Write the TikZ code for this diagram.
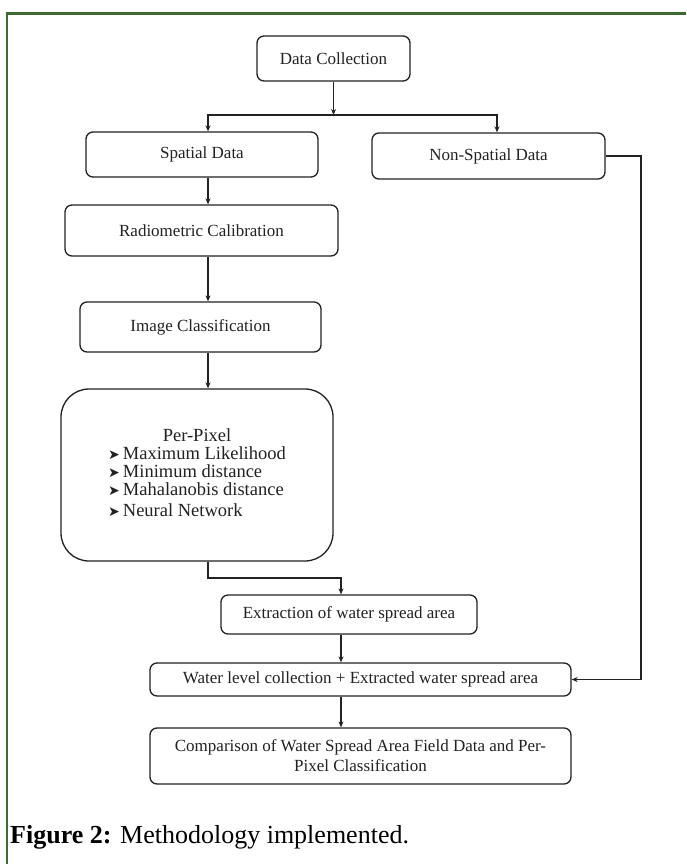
\documentclass[tikz,border=0pt]{standalone}
\usepackage{fontspec}
\setmainfont{Liberation Serif}
\newfontfamily\symfont{DejaVu Sans}
\usetikzlibrary{arrows.meta,calc}
\definecolor{framegreen}{HTML}{3C6A32}
\definecolor{ink}{HTML}{222222}
\begin{document}
\begin{tikzpicture}[x=1pt,y=-1pt,
 box/.style={draw=ink, line width=1.3pt, rounded corners=7pt, inner sep=0pt, align=center,
   font=\fontsize{17}{20}\selectfont, text=ink},
 arr/.style={-{Stealth[length=6pt,width=5pt]}, line width=1.2pt, draw=ink}]
\useasboundingbox (0,0) rectangle (686,864);
\fill[white] (0,0) rectangle (686,864);
% frame
\draw[framegreen, line width=3pt] (5.5,14) -- (686,14);
\draw[framegreen, line width=2pt] (7,12.5) -- (7,864);
% boxes
\node[box, minimum width=153pt, minimum height=45pt] (dc) at (333.5,58.5) {Data Collection};
\node[box, minimum width=232pt, minimum height=45pt] (sp) at (202,154.5) {Spatial Data};
\node[box, minimum width=233pt, minimum height=46pt] (ns) at (488.5,156) {Non-Spatial Data};
\node[box, minimum width=273pt, minimum height=51pt] (rad) at (201.5,230.5) {Radiometric Calibration};
\node[box, minimum width=241pt, minimum height=50pt] (ic) at (200.5,327) {Image Classification};
\node[box, minimum width=272pt, minimum height=172pt, rounded corners=28pt,
      font=\fontsize{18.5}{16.5}\selectfont] (pp) at (197,475)
 {\begin{tabular}{@{}l@{}}\multicolumn{1}{@{}c@{}}{Per-Pixel}\\
  {\symfont\fontsize{14}{14}\selectfont ➤}\hspace{3pt}Maximum Likelihood\\
  {\symfont\fontsize{14}{14}\selectfont ➤}\hspace{3pt}Minimum distance\\
  {\symfont\fontsize{14}{14}\selectfont ➤}\hspace{3pt}Mahalanobis distance\\[3pt]
  {\symfont\fontsize{14}{14}\selectfont ➤}\hspace{3pt}Neural Network\end{tabular}};
\node[box, minimum width=256pt, minimum height=39pt] (ex) at (349,614.5) {Extraction of water spread area};
\node[box, minimum width=421pt, minimum height=33pt] (wl) at (360.5,679.5) {Water level collection + Extracted water spread area};
\node[box, minimum width=421pt, minimum height=56pt] (cmp) at (360.5,756)
 {Comparison of Water Spread Area Field Data and Per-\\Pixel Classification};
% helper coordinates
\coordinate (j) at (333.5,115);
\coordinate (xa) at (208,0);
\coordinate (xb) at (497,0);
\coordinate (xc) at (341,0);
\coordinate (xr) at (641,0);
\coordinate (bend) at (208,578);
% connectors
\draw[arr] (dc.south) -- (j);
\draw[arr] (j) -| (sp.north -| xa);
\draw[arr] (j) -| (ns.north -| xb);
\draw[arr] (sp.south -| xa) -- (rad.north -| xa);
\draw[arr] (rad.south -| xa) -- (ic.north -| xa);
\draw[arr] (ic.south -| xa) -- (pp.north -| xa);
\draw[arr] (pp.south -| xa) -- (bend) -| (ex.north -| xc);
\draw[arr] (ex.south -| xc) -- (wl.north -| xc);
\draw[arr] (wl.south -| xc) -- (cmp.north -| xc);
\draw[arr] (ns.east) -- (ns.east -| xr) -- (wl.east -| xr) -- (wl.east);
% caption
\node[anchor=base west, inner sep=0pt, font=\fontsize{26}{30}\selectfont] (cap) at (10,843)
 {\textbf{Figure 2:} Methodology implemented.};
\end{tikzpicture}
\end{document}
